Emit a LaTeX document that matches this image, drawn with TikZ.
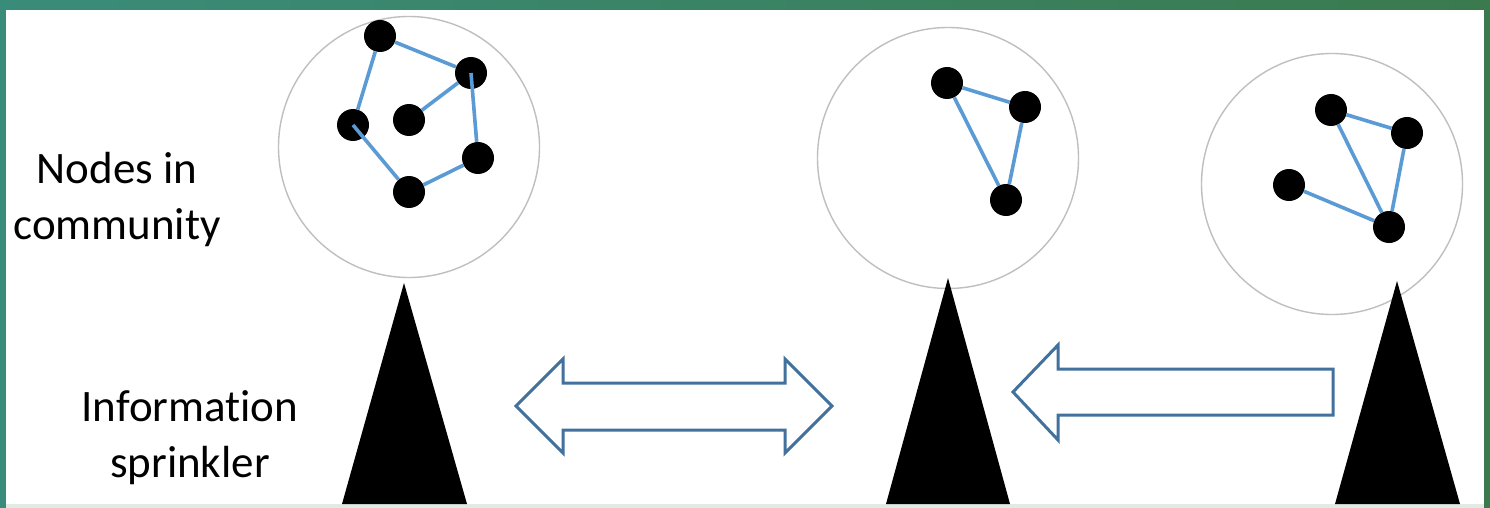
\documentclass[tikz,border=0pt]{standalone}
\usepackage{fontspec}
\newfontfamily\carlito[Ligatures={NoCommon}]{Carlito}
\definecolor{frameL}{HTML}{3A8C7A}
\definecolor{frameR}{HTML}{3A7A4E}
\definecolor{edgeblue}{HTML}{5B9BD5}
\definecolor{arrowblue}{HTML}{41719C}
\definecolor{ringgrey}{HTML}{BFBFBF}
\tikzset{
  community/.style={circle, draw=ringgrey, line width=1.4pt, fill=white, minimum size=261pt, inner sep=0pt},
  dot/.style={circle, fill=black, minimum size=32pt, inner sep=0pt},
  link/.style={draw=edgeblue, line width=3.6pt},
  sprinkler/.style={fill=black},
  bigarrow/.style={draw=arrowblue, line width=3pt, fill=white, line join=miter},
  label/.style={font=\carlito\fontsize{45}{56}\selectfont, align=center, inner sep=0pt}
}
\begin{document}
\begin{tikzpicture}[x=1pt,y=-1pt]
\useasboundingbox (0,0) rectangle (1490,508);
% frame
\shade[left color=frameL, right color=frameR] (0,0) rectangle (1490,508);
\fill[white] (6,10) rectangle (1484,504);
\fill[white!85!frameR] (6,504) rectangle (1484,508);

% communities
\node[community] (c1) at (409,147) {};
\node[community] (c2) at (948,158) {};
\node[community] (c3) at (1332,184) {};

% sprinklers
\fill[sprinkler] (404,283) -- (467,504) -- (342,504) -- cycle;
\fill[sprinkler] (948,278) -- (1010,504) -- (886,504) -- cycle;
\fill[sprinkler] (1397,281) -- (1460,504) -- (1335,504) -- cycle;

% community 1
\node[dot] (a1) at (380,36) {};
\node[dot] (a2) at (471,73) {};
\node[dot] (a3) at (353,125) {};
\node[dot] (a4) at (409,120) {};
\node[dot] (a5) at (478,158) {};
\node[dot] (a6) at (409,192) {};
\draw[link] (a1) -- (a2);
\draw[link] (a1) -- (a3);
\draw[link] (a2) -- (a4);
\draw[link] (a2.center) -- (a5);
\draw[link] (a3.center) -- (a6);
\draw[link] (a6) -- (a5);

% community 2
\node[dot] (b1) at (947,83) {};
\node[dot] (b2) at (1025,107) {};
\node[dot] (b3) at (1006,200) {};
\draw[link] (b1) -- (b2);
\draw[link] (b1) -- (b3);
\draw[link] (b2) -- (b3);

% community 3
\node[dot] (d1) at (1331,110) {};
\node[dot] (d2) at (1407,133) {};
\node[dot] (d3) at (1289,185) {};
\node[dot] (d4) at (1389,227) {};
\draw[link] (d1) -- (d2);
\draw[link] (d1) -- (d4);
\draw[link] (d2) -- (d4);
\draw[link] (d3) -- (d4);

% arrows
\draw[bigarrow] (516,406) -- (563,359) -- (563,383) -- (785,383) -- (785,359)
  -- (832,406) -- (785,453) -- (785,430) -- (563,430) -- (563,453) -- cycle;
\draw[bigarrow] (1013,392) -- (1058,345) -- (1058,369) -- (1333,369) -- (1333,415)
  -- (1058,415) -- (1058,440) -- cycle;

% labels
\node[label] (t1) at (117,200) {Nodes in\\community};
\node[label] (t2) at (190,438) {Information\\sprinkler};
\end{tikzpicture}
\end{document}
